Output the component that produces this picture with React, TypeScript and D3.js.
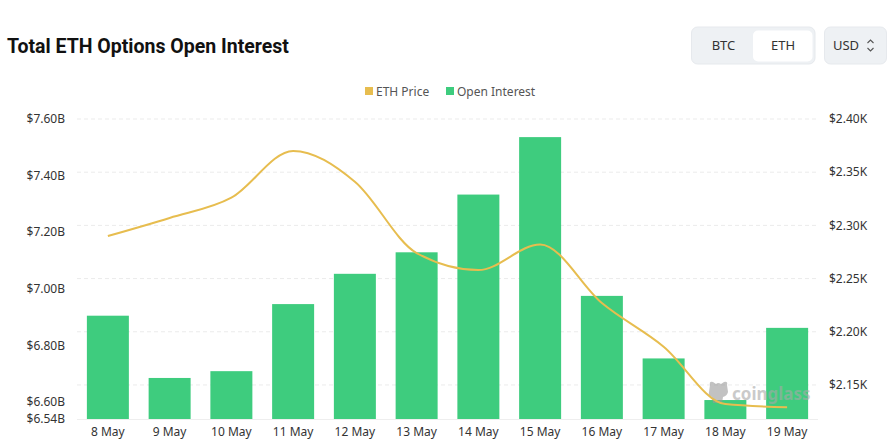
import React, { useEffect, useRef } from 'react';
import * as d3 from 'd3';

// dates on the x axis
const days = ['8 May', '9 May', '10 May', '11 May', '12 May', '13 May', '14 May', '15 May', '16 May', '17 May', '18 May', '19 May'];
// open interest, billions USD
const openInterest = [6.905, 6.685, 6.709, 6.946, 7.053, 7.129, 7.333, 7.536, 6.975, 6.754, 6.607, 6.862];
// eth price, thousands USD
const ethPrice = [2.29, 2.307, 2.326, 2.37, 2.341, 2.274, 2.258, 2.282, 2.227, 2.186, 2.132, 2.129];

const leftTicks = [7.6, 7.4, 7.2, 7.0, 6.8, 6.6, 6.54];
const rightTicks = [2.4, 2.35, 2.3, 2.25, 2.2, 2.15];

const W = 896;
const H = 444;
const FONT = '"Noto Sans", Roboto, sans-serif';

const App: React.FC = () => {
  const svgRef = useRef<SVGSVGElement>(null);

  useEffect(() => {
    if (!svgRef.current) return;
    const svg = d3.select(svgRef.current);
    svg.selectAll('*').remove();

    const plot = { left: 77, right: 818, top: 119, bottom: 419 };

    const x = d3.scaleBand<string>()
      .domain(days)
      .range([plot.left, plot.right])
      .paddingInner(0.32)
      .paddingOuter(0.16);

    const yLeft = d3.scaleLinear().domain([6.54, 7.6]).range([plot.bottom, plot.top]);
    const yRight = d3.scaleLinear().domain([2.118, 2.4]).range([plot.bottom, plot.top]);

    // header
    svg.append('text')
      .attr('x', 7)
      .attr('y', 53)
      .attr('font-family', 'Roboto, sans-serif')
      .attr('font-weight', 700)
      .attr('font-size', 19.5)
      .attr('fill', '#111')
      .text('Total ETH Options Open Interest');

    // BTC / ETH toggle
    svg.append('rect')
      .attr('x', 691.5).attr('y', 27).attr('width', 123.5).attr('height', 37)
      .attr('rx', 6).attr('fill', '#eef1f4').attr('stroke', '#e6e9ed');
    svg.append('rect')
      .attr('x', 753).attr('y', 30.5).attr('width', 59.5).attr('height', 31)
      .attr('rx', 5).attr('fill', '#fff');
    svg.append('rect')
      .attr('x', 824.5).attr('y', 27).attr('width', 62).attr('height', 37)
      .attr('rx', 6).attr('fill', '#eef1f4').attr('stroke', '#e6e9ed');

    const btnText = [
      { t: 'BTC', x: 723.5 },
      { t: 'ETH', x: 783 },
      { t: 'USD', x: 846 }
    ];
    svg.selectAll('.btn')
      .data(btnText)
      .enter().append('text')
      .attr('x', d => d.x)
      .attr('y', 50)
      .attr('text-anchor', 'middle')
      .attr('font-family', FONT)
      .attr('font-size', 13)
      .attr('fill', '#333')
      .text(d => d.t);

    // up/down chevron for USD
    svg.append('path')
      .attr('d', 'M867.5,43 L870.5,40 L873.5,43 M867.5,48 L870.5,51 L873.5,48')
      .attr('fill', 'none')
      .attr('stroke', '#555')
      .attr('stroke-width', 1.1);

    // legend
    const legend = [
      { label: 'ETH Price', color: '#e7bd4f', x: 365 },
      { label: 'Open Interest', color: '#3ecc7e', x: 446 }
    ];
    const lg = svg.selectAll('.lg').data(legend).enter().append('g');
    lg.append('rect')
      .attr('x', d => d.x).attr('y', 87).attr('width', 8).attr('height', 8)
      .attr('fill', d => d.color);
    lg.append('text')
      .attr('x', d => d.x + 11)
      .attr('y', 95.5)
      .attr('font-family', FONT)
      .attr('font-size', 12)
      .attr('fill', '#555')
      .text(d => d.label);

    // grid lines
    svg.append('g')
      .selectAll('line')
      .data(rightTicks)
      .enter().append('line')
      .attr('x1', plot.left).attr('x2', plot.right)
      .attr('y1', d => yRight(d)).attr('y2', d => yRight(d))
      .attr('stroke', '#ebebeb')
      .attr('stroke-dasharray', '4,3');

    svg.append('line')
      .attr('x1', plot.left).attr('x2', plot.right)
      .attr('y1', plot.bottom + 0.5).attr('y2', plot.bottom + 0.5)
      .attr('stroke', '#eeeeee');

    // left axis labels
    svg.append('g')
      .selectAll('text')
      .data(leftTicks)
      .enter().append('text')
      .attr('x', 65)
      .attr('y', d => yLeft(d))
      .attr('dy', '0.35em')
      .attr('text-anchor', 'end')
      .attr('font-family', FONT)
      .attr('font-size', 12)
      .attr('fill', '#333')
      .text(d => `$${d.toFixed(2)}B`);

    // right axis labels
    svg.append('g')
      .selectAll('text')
      .data(rightTicks)
      .enter().append('text')
      .attr('x', 829)
      .attr('y', d => yRight(d))
      .attr('dy', '0.35em')
      .attr('font-family', FONT)
      .attr('font-size', 12)
      .attr('fill', '#333')
      .text(d => `$${d.toFixed(2)}K`);

    // bars
    svg.append('g')
      .selectAll('rect')
      .data(openInterest)
      .enter().append('rect')
      .attr('x', (d, i) => x(days[i])!)
      .attr('y', d => yLeft(d))
      .attr('width', x.bandwidth())
      .attr('height', d => plot.bottom - yLeft(d))
      .attr('fill', '#3ecc7e');

    // x labels
    svg.append('g')
      .selectAll('text')
      .data(days)
      .enter().append('text')
      .attr('x', d => x(d)! + x.bandwidth() / 2)
      .attr('y', 436)
      .attr('text-anchor', 'middle')
      .attr('font-family', FONT)
      .attr('font-size', 12)
      .attr('fill', '#333')
      .text(d => d);

    // watermark
    const wm = svg.append('g').attr('opacity', 0.6);
    wm.append('path')
      .attr('d', 'M710,385 Q709,381 713,382 L716,384 Q718,382 721,384 L724,382 Q728,381 727,385 L728,392 Q727,396 723,397 L722,403 L713,403 L712,397 Q708,396 709,392 Z')
      .attr('fill', '#9a9a9a');
    wm.append('text')
      .attr('x', 732)
      .attr('y', 400)
      .attr('font-family', FONT)
      .attr('font-weight', 700)
      .attr('font-size', 17)
      .attr('fill', '#a8a8a8')
      .text('coinglass');

    // eth price line
    const line = d3.line<number>()
      .x((d, i) => x(days[i])! + x.bandwidth() / 2)
      .y(d => yRight(d))
      .curve(d3.curveMonotoneX);

    svg.append('path')
      .datum(ethPrice)
      .attr('fill', 'none')
      .attr('stroke', '#e7bd4f')
      .attr('stroke-width', 2)
      .attr('d', line);
  }, []);

  return (
    <div style={{ position: 'absolute', left: 0, top: 0 }}>
      <svg ref={svgRef} width={W} height={H} style={{ display: 'block', background: '#fff' }} />
    </div>
  );
};

export default App;
